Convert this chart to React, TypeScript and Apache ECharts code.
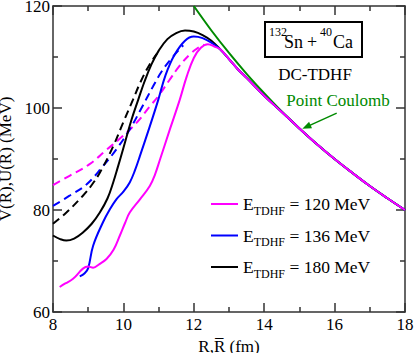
import React, { useEffect, useRef } from "react";
import * as echarts from "echarts";

// Point Coulomb potential
const R_COULOMB = [12, 12.5, 13, 13.5, 14, 14.5, 15, 15.5, 16, 16.5, 17, 17.5, 18];
const V_COULOMB = [120, 115.2, 110.8, 106.7, 102.9, 99.3, 96.0, 92.9, 90.0, 87.3, 84.7, 82.3, 80.0];

// common outer tail of all TDHF curves
const R_TAIL = [12.75, 13, 13.25, 13.5, 14, 14.5, 15, 15.5, 16, 16.5, 17, 17.5, 18];
const V_TAIL = [111.5, 109.6, 107.6, 105.9, 102.4, 99.2, 96.0, 92.9, 90.0, 87.3, 84.7, 82.3, 80.0];

// E = 120 MeV
const R_120 = [8.19, 8.35, 8.57, 8.85, 9.0, 9.14, 9.32, 9.52, 9.72, 9.9, 10.05, 10.18, 10.47, 10.75, 10.9, 11.04, 11.32, 11.6, 11.8, 12.0, 12.2, 12.4, 12.6];
const V_120 = [64.9, 65.6, 66.5, 68.5, 68.9, 68.7, 69.4, 70.4, 72.2, 75.0, 77.5, 79.5, 82.1, 84.7, 87.0, 89.9, 95.8, 101.6, 106.2, 109.8, 111.8, 112.5, 112.0];
const R_120D = [8.0, 8.47, 9.04, 9.52, 10.0, 10.4, 10.75, 11.0, 11.3, 11.6, 11.9, 12.1, 12.3];
const V_120D = [84.9, 86.7, 89.0, 91.8, 94.6, 97.3, 100.3, 102.4, 105.4, 108.3, 110.6, 111.7, 112.4];

// E = 136 MeV
const R_136 = [8.76, 8.9, 9.0, 9.14, 9.42, 9.62, 9.8, 10.0, 10.18, 10.33, 10.47, 10.75, 10.99, 11.2, 11.45, 11.75, 12.0, 12.25, 12.5];
const V_136 = [67.0, 67.6, 68.6, 73.0, 77.6, 80.2, 82.1, 83.6, 85.4, 87.8, 90.6, 96.4, 101.6, 106.5, 110.4, 113.2, 114.0, 113.7, 112.8];
const R_136D = [8.0, 8.47, 8.95, 9.42, 9.8, 10.18, 10.5, 10.84, 11.1, 11.4, 11.7];
const V_136D = [80.8, 82.8, 85.0, 88.6, 91.9, 95.8, 99.8, 104.2, 107.3, 110.0, 112.3];

// E = 180 MeV
const R_180 = [8.0, 8.2, 8.38, 8.6, 8.85, 9.1, 9.33, 9.55, 9.71, 9.85, 9.99, 10.23, 10.42, 10.6, 10.8, 11.0, 11.25, 11.5, 11.75, 12.0, 12.25, 12.5];
const V_180 = [75.0, 74.3, 74.0, 74.4, 75.6, 77.3, 79.5, 82.3, 85.4, 88.6, 91.9, 97.7, 101.6, 105.2, 108.6, 111.2, 113.5, 114.7, 115.2, 115.0, 114.3, 113.2];
const R_180D = [8.0, 8.38, 8.85, 9.1, 9.33, 9.71, 9.99, 10.27, 10.5, 10.75, 10.95];
const V_180D = [77.3, 79.5, 82.8, 84.9, 87.3, 92.5, 97.1, 101.6, 105.3, 108.6, 110.6];

const X_TICKS = { min: 8, max: 18, interval: 2 };
const Y_TICKS = { min: 60, max: 120, interval: 20 };

const SERIES_NAMES = ["E120", "E136", "E180"];
const LEGEND_LABELS: Record<string, string> = {
  E120: "120 MeV",
  E136: "136 MeV",
  E180: "180 MeV",
};

const FONT = "serif";
const MAGENTA = "#ff00ff";
const BLUE = "#0000ff";
const BLACK = "#000000";
const GREEN = "#008a00";

function zip(xs: number[], ys: number[]) {
  return xs.map((x, i) => [x, ys[i]]);
}

export default function App() {
  const ref = useRef<HTMLDivElement>(null);

  useEffect(() => {
    if (!ref.current) return;
    const chart = echarts.init(ref.current, null, { renderer: "svg" });

    const axisLineStyle = { color: "#333", width: 1.5 };
    const xBase = {
      type: "value" as const,
      min: X_TICKS.min,
      max: X_TICKS.max,
      interval: X_TICKS.interval,
      splitLine: { show: false },
      axisLine: { show: true, onZero: false, lineStyle: axisLineStyle },
      axisTick: { show: true, inside: true, length: 9, lineStyle: axisLineStyle },
      minorTick: { show: true, splitNumber: 2, length: 5, lineStyle: axisLineStyle },
    };
    const yBase = {
      type: "value" as const,
      min: Y_TICKS.min,
      max: Y_TICKS.max,
      interval: Y_TICKS.interval,
      splitLine: { show: false },
      axisLine: { show: true, onZero: false, lineStyle: axisLineStyle },
      axisTick: { show: true, inside: true, length: 9, lineStyle: axisLineStyle },
      minorTick: { show: true, splitNumber: 2, length: 5, lineStyle: axisLineStyle },
    };

    const solid = (name: string, data: number[][], color: string) => ({
      name,
      type: "line",
      data,
      showSymbol: false,
      symbol: "none",
      smooth: 0.4,
      lineStyle: { color, width: 2 },
      itemStyle: { color },
      z: 3,
    });
    const dashed = (data: number[][], color: string) => ({
      type: "line",
      data,
      showSymbol: false,
      symbol: "none",
      smooth: 0.4,
      lineStyle: { color, width: 2, type: [8, 5] },
      itemStyle: { color },
      z: 2,
    });

    const txt = (text: string, x: number, y: number, size: number, align: string, fill = "#000") => ({
      type: "text",
      x,
      y,
      style: {
        text,
        font: `${size}px serif`,
        fill,
        align,
        verticalAlign: "middle",
        textAlign: align,
        textVerticalAlign: "middle",
      },
    });

    const option: any = {
      animation: false,
      textStyle: { fontFamily: FONT },
      grid: { left: 53, right: 9, top: 6, bottom: 41, outerBoundsMode: "none", containLabel: false },
      xAxis: [
        {
          ...xBase,
          position: "bottom",
          name: "R,R\u0305 (fm)",
          nameLocation: "middle",
          nameGap: 22,
          nameTextStyle: { fontFamily: FONT, fontSize: 17, color: "#000" },
          axisLabel: { fontFamily: FONT, fontSize: 17, color: "#000", margin: 4 },
        },
        { ...xBase, position: "top", axisLabel: { show: false } },
      ],
      yAxis: [
        {
          ...yBase,
          position: "left",
          name: "V(R),U(R\u0305) (MeV)",
          nameLocation: "middle",
          nameGap: 35,
          nameTextStyle: { fontFamily: FONT, fontSize: 17, color: "#000" },
          axisLabel: { fontFamily: FONT, fontSize: 17, color: "#000", margin: 3 },
        },
        { ...yBase, position: "right", axisLabel: { show: false } },
      ],
      legend: {
        orient: "vertical",
        left: 211,
        top: 195,
        padding: 0,
        icon: "rect",
        itemWidth: 27,
        itemHeight: 2,
        itemGap: 10,
        data: SERIES_NAMES,
        formatter: (name: string) => `{m|E}{s|TDHF}{m| = ${LEGEND_LABELS[name]}}`,
        textStyle: {
          rich: {
            m: { fontFamily: FONT, fontSize: 17.5, color: "#000", lineHeight: 25, verticalAlign: "middle" },
            s: { fontFamily: FONT, fontSize: 12, color: "#000", lineHeight: 12, verticalAlign: "bottom" },
          },
        },
      },
      series: [
        {
          type: "line",
          data: zip(R_COULOMB, V_COULOMB),
          showSymbol: false,
          symbol: "none",
          smooth: 0.3,
          lineStyle: { color: GREEN, width: 2 },
          z: 1,
          markLine: {
            silent: true,
            symbol: ["none", "triangle"],
            symbolSize: [7, 9],
            label: { show: false },
            lineStyle: { color: GREEN, width: 1.5, type: "solid" },
            data: [[{ coord: [16.06, 99.0] }, { coord: [15.2, 96.3] }]],
          },
        },
        dashed(zip(R_120D, V_120D), MAGENTA),
        dashed(zip(R_136D, V_136D), BLUE),
        dashed(zip(R_180D, V_180D), BLACK),
        solid("E180", zip(R_180, V_180).concat(zip(R_TAIL, V_TAIL)), BLACK),
        solid("E136", zip(R_136, V_136).concat(zip(R_TAIL, V_TAIL)), BLUE),
        solid("E120", zip(R_120, V_120).concat(zip(R_TAIL, V_TAIL)), MAGENTA),
      ],
      graphic: [
        {
          type: "rect",
          shape: { x: 265, y: 22, width: 97, height: 35 },
          style: { fill: "none", stroke: "#000", lineWidth: 2 },
        },
        txt("132", 269, 32, 12, "left"),
        txt("Sn", 284, 42, 18, "left"),
        txt("+", 312, 42, 18, "center"),
        txt("40", 320, 32, 12, "left"),
        txt("Ca", 333, 42, 18, "left"),
        txt("DC-TDHF", 315, 74, 17, "center"),
        txt("Point Coulomb", 338, 100, 17, "center", GREEN),
      ],
    };

    chart.setOption(option);
    return () => chart.dispose();
  }, []);

  return (
    <div
      ref={ref}
      style={{ position: "fixed", left: 0, top: 0, width: 414, height: 353, background: "#fff" }}
    />
  );
}
